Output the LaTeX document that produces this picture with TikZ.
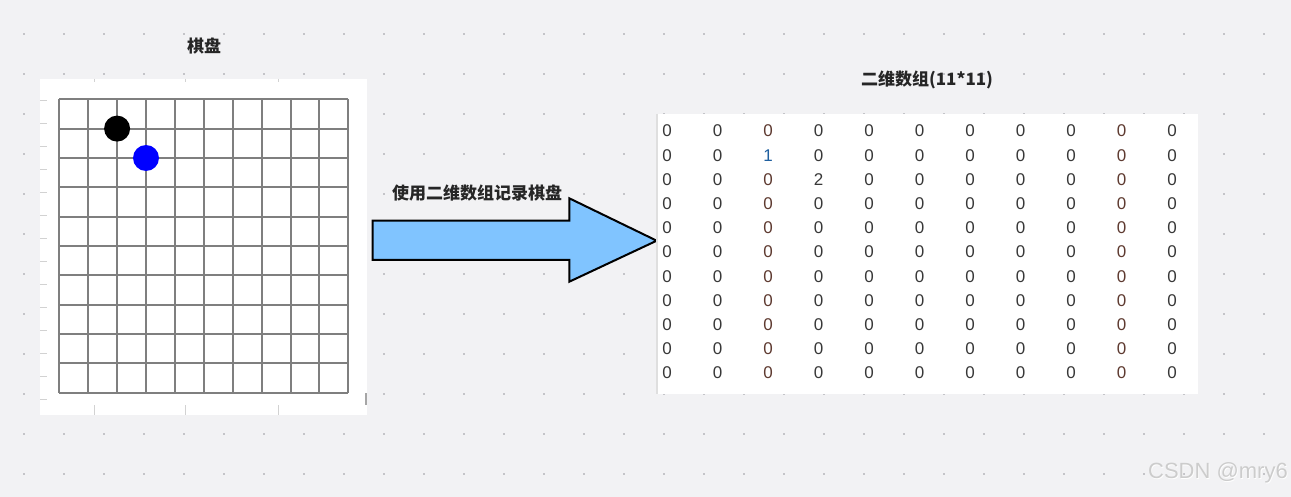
\documentclass[tikz,border=0pt]{standalone}
\usepackage{fontspec}
\setmainfont{Liberation Sans}
\newfontfamily\cjk{Noto Sans CJK SC}
\definecolor{bgc}{HTML}{F2F2F4}
\definecolor{dotc}{HTML}{C4C4C8}
\definecolor{gridc}{HTML}{7F7F7F}
\definecolor{arrowc}{HTML}{80C4FF}
\definecolor{numc}{HTML}{383838}
\definecolor{numbrown}{HTML}{5E3A30}
\definecolor{numblue}{HTML}{1F5F9F}

\begin{document}
\begin{tikzpicture}[x=1pt, y=-1pt,
    panel/.style={rectangle, fill=white, draw=none, anchor=north west, inner sep=0pt},
    title/.style={font=\cjk\bfseries\fontsize{17}{19}\selectfont, text=black!85, inner sep=0pt},
    gridline/.style={draw=gridc, line width=2pt},
    stone/.style={circle, minimum size=26pt, inner sep=0pt},
    axistick/.style={draw=gray!35, line width=1pt},
    num/.style={font=\fontsize{17}{18}\selectfont, inner sep=0pt},
    bigarrow/.style={draw=black, line width=2pt, fill=arrowc, miter limit=20},
    wmark/.style={font=\fontsize{22}{24}\selectfont, anchor=east, inner sep=0pt}
]

% background with dots
\fill[bgc] (0,0) rectangle (1291,497);
\foreach \i in {0,...,31}
  \foreach \j in {0,...,11}
    \fill[dotc] (24+40*\i-1.2,34+40*\j-1.2) rectangle ++(2.4,2.4);

% board
\node[panel, minimum width=327pt, minimum height=336pt] (board) at (40,79) {};
\node[title] (boardtitle) at (204,46) {棋盘};
\foreach \k in {0,...,13}
  \draw[axistick] (40,100.7+23*\k) -- (47,100.7+23*\k);
\foreach \x in {94,185.7,278.3} {
  \draw[axistick] (\x,405) -- (\x,415);
  \draw[axistick] (\x,79) -- (\x,82);
}
\draw[draw=gray!70, line width=1.5pt] (366,393) -- (366,405);
\foreach \k in {0,...,10} {
  \draw[gridline] (59.3+28.9*\k,99.3) -- (59.3+28.9*\k,392.7);
  \draw[gridline] (59.3,99.3+29.34*\k) -- (348.3,99.3+29.34*\k);
}
\node[stone, fill=black] (black) at (117.1,128.6) {};
\node[stone, fill=blue] (blue) at (146,158) {};

% arrow
\node[title] (arrowlabel) at (477,193) {使用二维数组记录棋盘};
\draw[bigarrow] (372.7,220.7) -- (569.3,220.7) -- (569.3,198.3) -- (656.7,240.7)
  -- (569.3,281.7) -- (569.3,260) -- (372.7,260) -- cycle;

% matrix
\node[panel, minimum width=541pt, minimum height=280pt] (matrix) at (657,114) {};
\draw[draw=gray!25, line width=1.5pt] (matrix.north west) -- (matrix.south west);
\node[title] (matrixtitle) at (927,80) {二维数组(11*11)};
\foreach \r in {0,...,10}
  \foreach \c in {0,...,10} {
    \def\val{0}
    \def\numcol{numc}
    \ifnum\c=2 \def\numcol{numbrown}\fi
    \ifnum\c=9 \def\numcol{numbrown}\fi
    \ifnum\r=1 \ifnum\c=2 \def\val{1}\def\numcol{numblue}\fi\fi
    \ifnum\r=2 \ifnum\c=3 \def\val{2}\fi\fi
    \node[num, text=\numcol] (m-\r-\c) at (667+50.5*\c,131+24.2*\r) {\val};
  }

\node[wmark, text=white] at (1288.8,474) {CSDN @mry6};
\node[wmark, text=gray!40] (mark) at (1288,473) {CSDN @mry6};

\end{tikzpicture}
\end{document}
